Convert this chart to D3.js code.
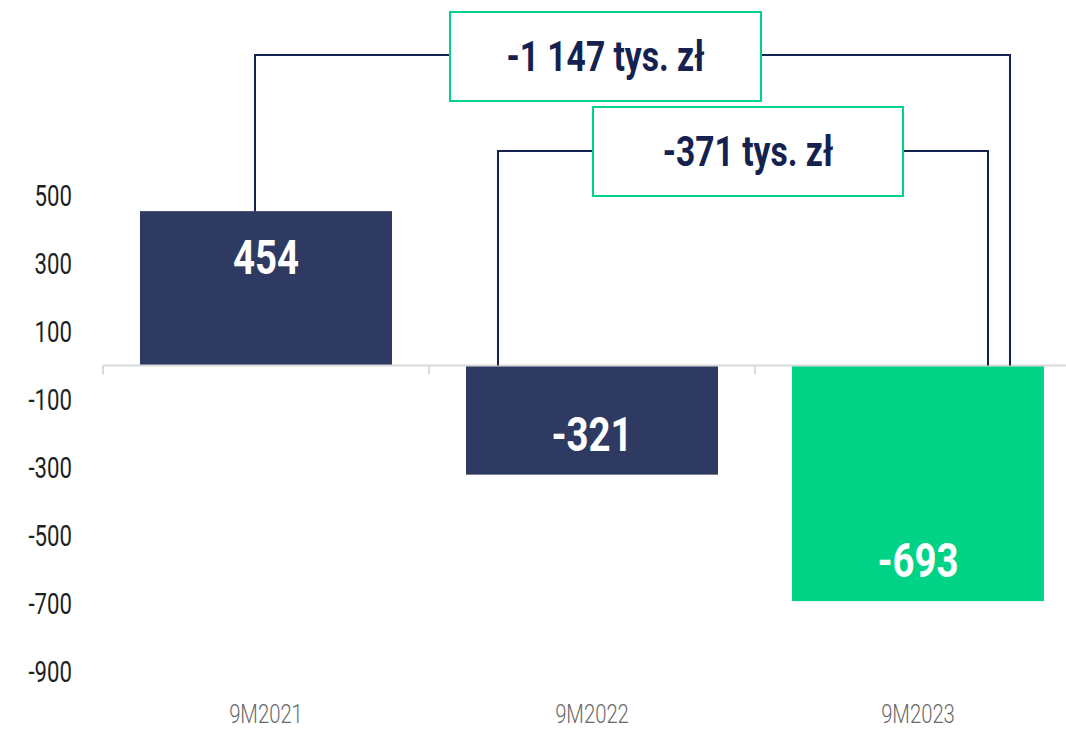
<!DOCTYPE html>
<html><head><meta charset="utf-8">
<script src="https://cdn.jsdelivr.net/npm/d3@7"></script>
<style>html,body{margin:0;padding:0;background:#fff;}svg{display:block;}</style>
</head><body>
<svg id="chart" width="1066" height="731"></svg>
<script>
const categories = ["9M2021", "9M2022", "9M2023"];
const values = [454, -321, -693];
const yTickValues = [500, 300, 100, -100, -300, -500, -700, -900];
const diffLabels = ["-1 147 tys. zł", "-371 tys. zł"];
const diffPairs = [[0, 2], [1, 2]];

const barColors = ["#2e3a62", "#2e3a62", "#00d385"];
const navy = "#15224f";
const green = "#00d385";
const FONT = "Roboto, 'Noto Sans', sans-serif";

const svg = d3.select("#chart");
const x = d3.scaleBand().domain(categories).range([103, 1081]).paddingInner(0.227).paddingOuter(0.1135);
const y = d3.scaleLinear().domain([-900, 500]).range([671.5, 195.5]);

function ctext(g, tx, ty, str, opts) {
  return g.append("text")
    .attr("transform", `translate(${tx},${ty}) scale(${opts.sx || 0.8},1)`)
    .attr("text-anchor", opts.anchor || "middle")
    .attr("dominant-baseline", "central")
    .attr("font-family", FONT)
    .attr("font-size", opts.size)
    .attr("font-weight", opts.weight || 400)
    .attr("fill", opts.fill)
    .text(str);
}

// bars
svg.append("g").selectAll("rect").data(values).join("rect")
  .attr("x", (d, i) => x(categories[i]))
  .attr("width", x.bandwidth())
  .attr("y", d => y(Math.max(0, d)))
  .attr("height", d => Math.abs(y(d) - y(0)))
  .attr("fill", (d, i) => barColors[i]);

// zero axis
const axisG = svg.append("g");
axisG.append("line").attr("x1", 103).attr("x2", 1066).attr("y1", y(0)).attr("y2", y(0))
  .attr("stroke", "#d9d9d9").attr("stroke-width", 2);
d3.range(categories.length + 1).forEach(i => {
  const bx = 103 + x.step() * i;
  axisG.append("line").attr("x1", bx).attr("x2", bx).attr("y1", y(0)).attr("y2", y(0) + 9)
    .attr("stroke", "#d9d9d9").attr("stroke-width", 2);
});

// y tick labels
const yG = svg.append("g");
yTickValues.forEach(v => ctext(yG, 72, y(v), String(v), {anchor: "end", size: 30, fill: "#1e1e1e", sx: 0.74}));

// x labels
const xG = svg.append("g");
categories.forEach(c => ctext(xG, x(c) + x.bandwidth() / 2, 714, c, {size: 26, fill: "#6a6a6a", sx: 0.78, weight: 300}));

// value labels
const vG = svg.append("g");
values.forEach((v, i) => {
  const cy = v >= 0 ? y(v) + 47 : y(v) - 40;
  ctext(vG, x(categories[i]) + x.bandwidth() / 2, cy, String(v), {size: 48, weight: 700, fill: "#ffffff", sx: 0.8});
});

// brackets
const bG = svg.append("g").attr("fill", "none").attr("stroke", navy).attr("stroke-width", 2);
const b1 = {
  lx: x(categories[diffPairs[0][0]]) + x.bandwidth() / 2 - 11, ly: y(values[0]),
  rx: x(categories[diffPairs[0][1]]) + x.bandwidth() - 34, top: 55
};
const b2 = {
  lx: x(categories[diffPairs[1][0]]) + 32, ly: y(0),
  rx: x(categories[diffPairs[1][1]]) + 196, top: 151
};
[b1, b2].forEach(b => {
  bG.append("path").attr("d", `M${b.lx},${b.ly} V${b.top} H${b.rx} V${y(0)}`);
});

// label boxes
const boxes = [{x: 450, y: 12, w: 311, h: 89}, {x: 593, y: 107, w: 310, h: 89}];
const lG = svg.append("g");
boxes.forEach((bx, i) => {
  lG.append("rect").attr("x", bx.x).attr("y", bx.y).attr("width", bx.w).attr("height", bx.h)
    .attr("fill", "#fff").attr("stroke", green).attr("stroke-width", 2);
  ctext(lG, bx.x + bx.w / 2, bx.y + bx.h / 2, diffLabels[i], {size: 42, weight: 700, fill: navy, sx: 0.8});
});
</script>
</body></html>
